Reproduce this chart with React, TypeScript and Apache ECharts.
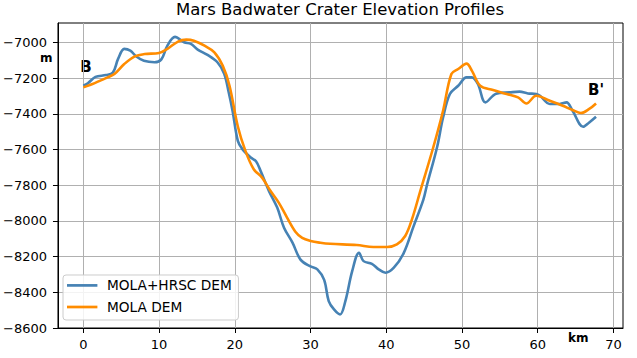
import React, { useEffect, useRef } from 'react';
import * as echarts from 'echarts';

const TITLE = 'Mars Badwater Crater Elevation Profiles';
const SERIES_NAMES = ['MOLA+HRSC DEM', 'MOLA DEM'];

const hrscKm = [
  0, 0.6, 1.6, 3.0, 3.9, 4.6, 5.4, 6.2, 7.0, 8.0, 9.4, 10.3, 11.1, 12.1, 13.3, 14.2,
  15.1, 16.4, 17.7, 18.6, 19.2, 19.7, 20.4, 21.0, 22.1, 22.8, 23.4, 24.5, 25.6, 26.5,
  27.6, 28.7, 30.0, 30.9, 31.8, 32.4, 33.1, 33.9, 34.6, 35.5, 36.4, 37.0, 38.1, 39.0,
  39.9, 41.0, 42.3, 43.6, 44.9, 45.4, 46.7, 47.5, 48.4, 49.5, 50.6, 51.3, 52.1, 53.1,
  54.5, 56.3, 57.6, 58.7, 59.8, 60.3, 61.6, 62.9, 63.8, 64.6, 66.0, 66.8, 67.7,
];
const hrscElev = [
  -7242, -7228, -7192, -7182, -7168, -7090, -7035, -7045, -7078, -7102, -7110, -7094,
  -7017, -6968, -6998, -7007, -7039, -7069, -7110, -7175, -7280, -7382, -7551, -7597,
  -7644, -7665, -7719, -7831, -7925, -8038, -8120, -8218, -8255, -8271, -8330, -8449,
  -8496, -8524, -8449, -8281, -8178, -8225, -8240, -8271, -8290, -8262, -8180, -8030,
  -7880, -7794, -7588, -7420, -7288, -7242, -7195, -7195, -7232, -7335, -7286, -7279,
  -7275, -7285, -7288, -7298, -7344, -7344, -7335, -7382, -7472, -7448, -7416,
];

const molaKm = [
  0, 1.5, 3.2, 4.1, 5.4, 6.8, 8.1, 10.0, 11.1, 12.5, 13.6, 14.6, 16.0, 17.3, 18.4,
  19.3, 20.4, 21.4, 22.5, 23.6, 24.7, 25.8, 26.9, 28.0, 28.9, 30.0, 31.3, 32.6, 36.1,
  38.3, 40.1, 41.4, 42.5, 43.4, 44.5, 46.2, 47.5, 48.6, 49.5, 50.6, 51.3, 52.4, 54.1,
  55.9, 57.4, 58.5, 59.8, 61.6, 63.3, 64.6, 65.7, 66.8, 67.7,
];
const molaElev = [
  -7251, -7227, -7195, -7176, -7120, -7077, -7064, -7058, -7035, -6994, -6983, -6989,
  -7017, -7054, -7129, -7242, -7470, -7607, -7710, -7757, -7831, -7897, -7981, -8060,
  -8095, -8112, -8122, -8128, -8135, -8146, -8146, -8131, -8084, -7990, -7831, -7588,
  -7382, -7176, -7148, -7118, -7157, -7242, -7266, -7288, -7307, -7341, -7298, -7326,
  -7354, -7378, -7395, -7372, -7341,
];

const xTicks = [0, 10, 20, 30, 40, 50, 60, 70];
const yTicks = [-8600, -8400, -8200, -8000, -7800, -7600, -7400, -7200, -7000];

const BLUE = '#4682b4';
const ORANGE = '#ff8c00';
const FONT = 'DejaVu Sans';

const minus = (v: number) => String(v).replace('-', '\u2212');

export default function App() {
  const ref = useRef<HTMLDivElement>(null);
  useEffect(() => {
    const chart = echarts.init(ref.current!, null, { renderer: 'svg' });
    const hrsc = hrscKm.map((k, i) => [k, hrscElev[i]]);
    const mola = molaKm.map((k, i) => [k, molaElev[i]]);
    chart.setOption({
      animation: false,
      backgroundColor: '#ffffff',
      textStyle: { fontFamily: FONT },
      grid: {
        left: 57, top: 23, right: 14, bottom: 30,
        show: true, borderColor: '#000', borderWidth: 1, backgroundColor: 'transparent',
      },
      xAxis: {
        type: 'value', min: -3.35, max: 71.26,
        axisLine: { show: true, onZero: false, lineStyle: { color: '#000', width: 1 } },
        axisTick: { show: true, length: 5, lineStyle: { color: '#000' }, customValues: xTicks },
        axisLabel: { customValues: xTicks, formatter: minus, color: '#000', fontSize: 13, margin: 9.5, fontFamily: FONT },
        splitLine: { show: true, lineStyle: { color: '#b0b0b0', width: 1 } },
      },
      yAxis: {
        type: 'value', min: -8600, max: -6890,
        axisLine: { show: true, onZero: false, lineStyle: { color: '#000', width: 1 } },
        axisTick: { show: true, length: 5, lineStyle: { color: '#000' }, customValues: yTicks },
        axisLabel: { customValues: yTicks, formatter: minus, color: '#000', fontSize: 13, margin: 11, fontFamily: FONT },
        splitLine: { show: true, lineStyle: { color: '#b0b0b0', width: 1 } },
      },
      legend: {
        left: 63, top: 275, orient: 'vertical',
        data: SERIES_NAMES.map((n) => ({ name: n, icon: 'rect' })),
        itemWidth: 30.4, itemHeight: 2.7, itemGap: 5.6,
        padding: [2.4, 6.7, 5, 4],
        backgroundColor: 'rgba(255,255,255,0.85)',
        borderColor: '#cccccc', borderWidth: 1, borderRadius: 3,
        textStyle: { fontSize: 13.7, color: '#000', fontFamily: FONT, lineHeight: 16, padding: [0, 0, 0, 4.6] },
      },
      graphic: [
        { type: 'text', x: 340, y: 9, style: { text: TITLE, font: `16.5px "${FONT}"`, fill: '#000', textAlign: 'center', textVerticalAlign: 'middle' } },
        { type: 'text', x: 46.3, y: 58.3, style: { text: 'm', font: `bold 12px "${FONT}"`, fill: '#000', textAlign: 'center', textVerticalAlign: 'middle' } },
        { type: 'text', x: 578.3, y: 338.3, style: { text: 'km', font: `bold 12px "${FONT}"`, fill: '#000', textAlign: 'center', textVerticalAlign: 'middle' } },
        { type: 'text', x: 86, y: 67, style: { text: 'B', font: `bold 15px "${FONT}"`, fill: '#000', textAlign: 'center', textVerticalAlign: 'middle' } },
        { type: 'text', x: 596, y: 90, style: { text: "B'", font: `bold 15px "${FONT}"`, fill: '#000', textAlign: 'center', textVerticalAlign: 'middle' } },
      ],
      series: [
        { name: SERIES_NAMES[0], type: 'line', data: hrsc, symbol: 'none', smooth: 0.35, lineStyle: { color: BLUE, width: 2.6 }, itemStyle: { color: BLUE } },
        { name: SERIES_NAMES[1], type: 'line', data: mola, symbol: 'none', smooth: 0.35, lineStyle: { color: ORANGE, width: 2.6 }, itemStyle: { color: ORANGE } },
      ],
    });
    return () => chart.dispose();
  }, []);
  return <div ref={ref} style={{ position: 'fixed', left: 0, top: 0, width: 637, height: 358 }} />;
}
